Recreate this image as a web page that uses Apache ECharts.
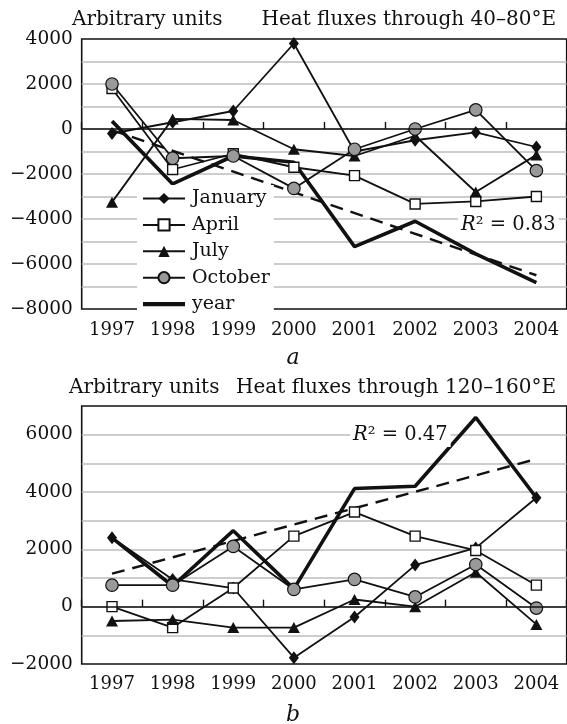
<!DOCTYPE html>
<html>
<head>
<meta charset="utf-8">
<script src="https://cdn.jsdelivr.net/npm/echarts@6/dist/echarts.min.js"></script>
<style>
  html, body { margin: 0; padding: 0; background: #fff; }
  #chart { width: 567px; height: 724px; }
</style>
</head>
<body>
<div id="chart"></div>
<script>
// ---- Data ----
const years = ['1997', '1998', '1999', '2000', '2001', '2002', '2003', '2004'];

// Panel a: Heat fluxes through 40–80°E
const janA  = [-200, 300, 800, 3800, -1000, -500, -150, -800];
const aprA  = [1800, -1800, -1100, -1700, -2070, -3330, -3220, -3000];
const julA  = [-3250, 450, 400, -900, -1200, -300, -2800, -1150];
const octA  = [2000, -1300, -1200, -2640, -900, 0, 850, -1850];
const yearA = [350, -2440, -1200, -1480, -5230, -4100, -5550, -6830];
const trendA = [-50, -6500];          // dashed trend, values at 1997 and 2004
const r2A = '0.83';

// Panel b: Heat fluxes through 120–160°E
const janB  = [2400, 950, 650, -1780, -360, 1450, 2050, 3800];
const aprB  = [0, -730, 650, 2460, 3300, 2460, 1960, 750];
const julB  = [-500, -450, -730, -730, 250, 0, 1200, -620];
const octB  = [750, 750, 2100, 600, 950, 340, 1470, -50];
const yearB = [2400, 720, 2650, 620, 4120, 4200, 6600, 3800];
const trendB = [1150, 5150];
const r2B = '0.47';

// Axis ranges / ticks
const yRangeA = { min: -8000, max: 4000, step: 1000, labelStep: 2000 };
const yRangeB = { min: -2000, max: 7000, step: 1000, labelStep: 2000 };

const seriesNames = ['January', 'April', 'July', 'October', 'year'];
const titlesA = ['Arbitrary units', 'Heat fluxes through 40–80°E', 'a'];
const titlesB = ['Arbitrary units', 'Heat fluxes through 120–160°E', 'b'];

// ---- Styling ----
const FONT = '"DejaVu Serif", "Liberation Serif", serif';
const INK = '#111';

function endpoints(pair) {
  return years.map((_, i) => i === 0 ? pair[0] : (i === years.length - 1 ? pair[1] : null));
}

function fmtY(step) {
  return function (v) {
    if (v % step !== 0) return '';
    return v < 0 ? '\u2212' + Math.abs(v) : String(v);
  };
}

const styles = {
  January: { symbol: 'diamond', symbolSize: [10, 13], itemStyle: { color: INK, borderColor: INK, borderWidth: 0 } },
  April:   { symbol: 'rect', symbolSize: 10, itemStyle: { color: '#fff', borderColor: INK, borderWidth: 1.4 } },
  July:    { symbol: 'triangle', symbolSize: [12, 11], itemStyle: { color: INK, borderColor: INK, borderWidth: 0 } },
  October: { symbol: 'circle', symbolSize: 12.5, itemStyle: { color: '#999', borderColor: INK, borderWidth: 1.2 } },
  year:    { symbol: 'none', itemStyle: { color: INK } }
};

function makeSeries(gridIdx, dataMap, trend) {
  const xi = gridIdx * 2, yi = gridIdx;
  const out = [];
  out.push({
    name: 'trend' + gridIdx, type: 'line', xAxisIndex: xi, yAxisIndex: yi,
    data: endpoints(trend), connectNulls: true, symbol: 'none',
    lineStyle: { color: INK, width: 2.4, type: [13, 8] }, z: 2, silent: true
  });
  seriesNames.forEach(n => {
    const s = styles[n];
    out.push({
      name: n, type: 'line', xAxisIndex: xi, yAxisIndex: yi,
      data: dataMap[n],
      symbol: s.symbol, symbolSize: s.symbolSize, showSymbol: s.symbol !== 'none',
      itemStyle: s.itemStyle,
      lineStyle: { color: INK, width: n === 'year' ? 3.6 : 1.8 },
      z: n === 'year' ? 3 : 4
    });
  });
  return out;
}

const grids = [
  { left: 81.7, top: 39, width: 485, height: 270 },
  { left: 81.7, top: 406, width: 485, height: 258 }
];

function xAxes(gridIdx, labelMargin) {
  return [
    {
      gridIndex: gridIdx, type: 'category', data: years, boundaryGap: true, position: 'bottom',
      axisLine: { show: false, onZero: false }, axisTick: { show: false },
      axisLabel: { color: INK, fontFamily: FONT, fontSize: 18, margin: labelMargin },
      splitLine: { show: false }
    },
    {
      gridIndex: gridIdx, type: 'category', data: years, boundaryGap: true, position: 'bottom',
      axisLine: { show: true, onZero: true, lineStyle: { color: INK, width: 1.6 } },
      axisTick: { show: true, inside: true, length: 7, lineStyle: { color: INK, width: 1.4 } },
      axisLabel: { show: false }, splitLine: { show: false }, z: 5
    }
  ];
}

function yAxis(gridIdx, r) {
  return {
    gridIndex: gridIdx, type: 'value', min: r.min, max: r.max, interval: r.step,
    axisLine: { show: false }, axisTick: { show: false },
    axisLabel: { color: INK, fontFamily: FONT, fontSize: 18.5, margin: 9, formatter: fmtY(r.labelStep) },
    splitLine: { show: true, showMinLine: false, showMaxLine: false, lineStyle: { color: '#bdbdbd', width: 1.6 } }
  };
}

const chart = echarts.init(document.getElementById('chart'), null, { renderer: 'canvas' });

const textBase = { fill: INK, font: '20px ' + FONT, verticalAlign: 'middle' };

const legendData = seriesNames.map(n => n === 'year'
  ? { name: n, icon: 'path://M0,0 L30,0 L30,3 L0,3 Z' }
  : { name: n });

const option = {
  animation: false,
  backgroundColor: '#fff',
  grid: grids.map(g => Object.assign({ show: true, borderColor: INK, borderWidth: 1.6, backgroundColor: 'transparent', containLabel: false }, g)),
  xAxis: [].concat(xAxes(0, 12), xAxes(1, 11)),
  yAxis: [yAxis(0, yRangeA), yAxis(1, yRangeB)],
  legend: {
    data: legendData, orient: 'vertical', left: 137, top: 185,
    padding: [4, 4, 0, 5], itemGap: 7.4, itemWidth: 42, itemHeight: 14,
    symbolKeepAspect: true,
    backgroundColor: '#fff', borderWidth: 0,
    textStyle: { color: INK, fontFamily: FONT, fontSize: 19, lineHeight: 18, padding: [0, 0, 0, 2] },
    selectedMode: false, z: 6
  },
  series: [].concat(
    makeSeries(0, { January: janA, April: aprA, July: julA, October: octA, year: yearA }, trendA),
    makeSeries(1, { January: janB, April: aprB, July: julB, October: octB, year: yearB }, trendB)
  ),
  graphic: [
    { type: 'text', x: 72, y: 20, style: Object.assign({}, textBase, { text: titlesA[0] }) },
    { type: 'text', x: 556, y: 20, style: Object.assign({}, textBase, { text: titlesA[1], align: 'right' }) },
    { type: 'text', x: 293, y: 358, style: Object.assign({}, textBase, { text: titlesA[2], align: 'center', font: 'italic 22px ' + FONT }) },
    { type: 'text', x: 69, y: 388, style: Object.assign({}, textBase, { text: titlesB[0] }) },
    { type: 'text', x: 556, y: 388, style: Object.assign({}, textBase, { text: titlesB[1], align: 'right' }) },
    { type: 'text', x: 293, y: 715, style: Object.assign({}, textBase, { text: titlesB[2], align: 'center', font: 'italic 22px ' + FONT }) },
    {
      type: 'text', x: 458, y: 225, z: 10,
      style: {
        text: '{i|R}² = ' + r2A, fill: INK, font: '19.5px ' + FONT, verticalAlign: 'middle',
        backgroundColor: '#fff', padding: [2, 3, 2, 3],
        rich: { i: { fontStyle: 'italic', fontFamily: FONT, fontSize: 19.5 } }
      }
    },
    {
      type: 'text', x: 350, y: 435, z: 10,
      style: {
        text: '{i|R}² = ' + r2B, fill: INK, font: '19.5px ' + FONT, verticalAlign: 'middle',
        backgroundColor: '#fff', padding: [2, 3, 2, 3],
        rich: { i: { fontStyle: 'italic', fontFamily: FONT, fontSize: 19.5 } }
      }
    }
  ]
};

chart.setOption(option);
</script>
</body>
</html>
